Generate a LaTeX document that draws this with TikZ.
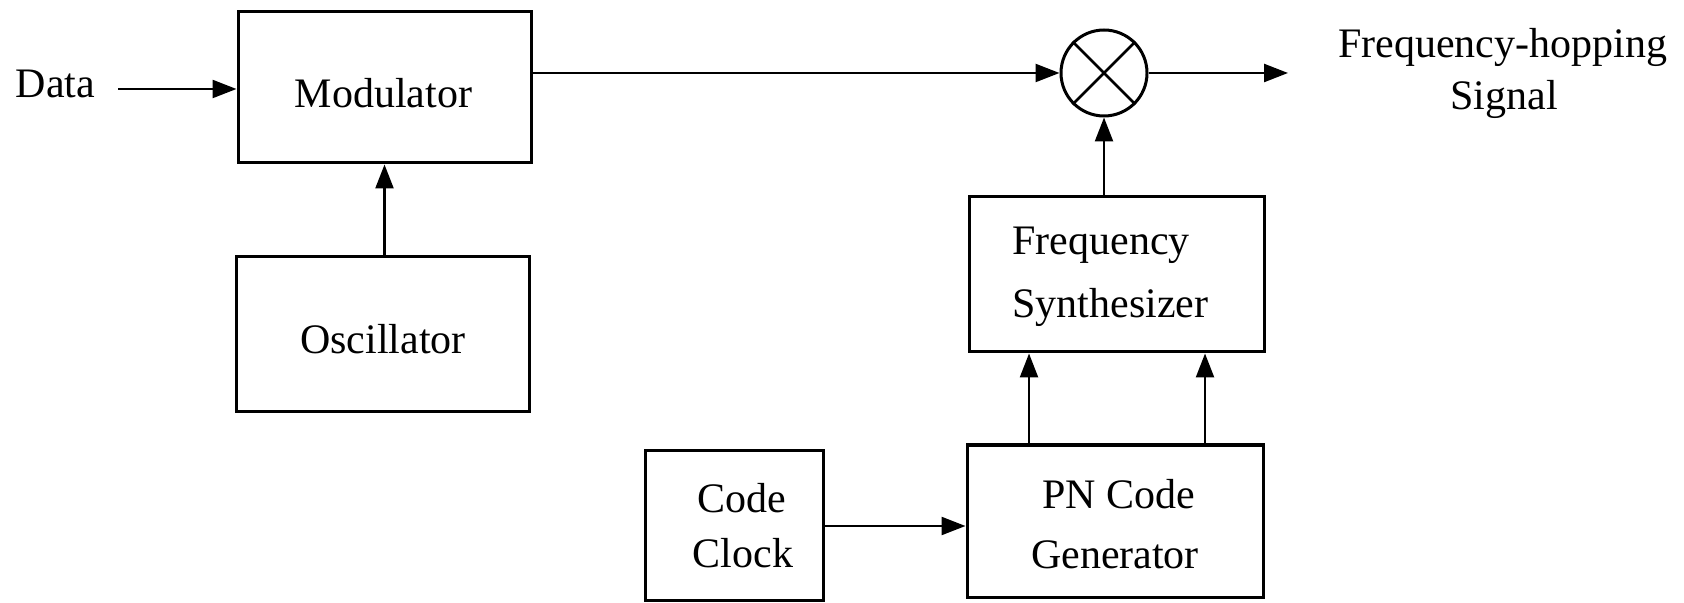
\documentclass[tikz,border=0pt]{standalone}
\usepackage{fontspec}
\setmainfont{Liberation Serif}
\usetikzlibrary{arrows.meta}

\tikzset{
  blockbox/.style={draw, line width=1.5pt, rectangle, inner sep=0pt},
  lbl/.style={inner sep=0pt, font=\fontsize{21}{25}\selectfont},
  arr/.style={line width=1.2pt, -{Triangle[length=12pt,width=9pt]}},
  wire/.style={line width=1.2pt},
}

\begin{document}
\begin{tikzpicture}[x=0.5pt,y=-0.5pt]
  \useasboundingbox (0,0) rectangle (1684,603);

  % blocks
  \node[blockbox, minimum width=146.5pt, minimum height=75.5pt] (mod) at (384.5,87.5) {};
  \node[blockbox, minimum width=146.5pt, minimum height=77.5pt] (osc) at (382.5,334.5) {};
  \node[blockbox, minimum width=147.5pt, minimum height=77.5pt] (syn) at (1116.5,274.5) {};
  \node[blockbox, minimum width=148pt, minimum height=76pt] (pn) at (1115,521) {};
  \node[blockbox, minimum width=89pt, minimum height=75pt] (clk) at (734,525) {};

  % mixer
  \node[draw, circle, line width=1.5pt, minimum size=43pt, inner sep=0pt] (mix) at (1104,73) {};
  \draw[line width=1.3pt] (mix.45) -- (mix.225) (mix.135) -- (mix.-45);

  % texts
  \node[lbl, anchor=base] (tdata) at (55.5,98) {Data};
  \node[lbl, anchor=base] (tmod) at (383.5,108) {Modulator};
  \node[lbl, anchor=base] (tosc) at (383,354) {Oscillator};
  \node[lbl, anchor=base west] (tsyn1) at (1012,255) {Frequency};
  \node[lbl, anchor=base west] (tsyn2) at (1012,318) {Synthesizer};
  \node[lbl, anchor=base] (tpn1) at (1119,508) {PN Code};
  \node[lbl, anchor=base] (tpn2) at (1115,568) {Generator};
  \node[lbl, anchor=base] (tclk1) at (742,512) {Code};
  \node[lbl, anchor=base] (tclk2) at (743,567) {Clock};
  \node[lbl, anchor=base] (tout1) at (1502.5,58) {Frequency-hopping};
  \node[lbl, anchor=base] (tout2) at (1504,110) {Signal};

  % connectors
  \coordinate (din) at (118,89);
  \coordinate (sout) at (1288,73);
  \draw[arr] (din) -- (din -| mod.west);
  \draw[arr] (mix.west -| mod.east) -- (mix.west);
  \draw[arr] (mix.east) -- (sout);
  \draw[arr] (osc.north -| mod.south) -- (mod.south);
  \draw[arr] (mix.south |- syn.north) -- (mix.south);
  \draw[arr] ([xshift=-43pt]pn.north) -- ([xshift=-43pt]pn.north |- syn.south);
  \draw[arr] ([xshift=45pt]pn.north) -- ([xshift=45pt]pn.north |- syn.south);
  \draw[arr] ([yshift=-0.5pt]clk.east) -- ([yshift=-0.5pt]clk.east -| pn.west);
\end{tikzpicture}
\end{document}
